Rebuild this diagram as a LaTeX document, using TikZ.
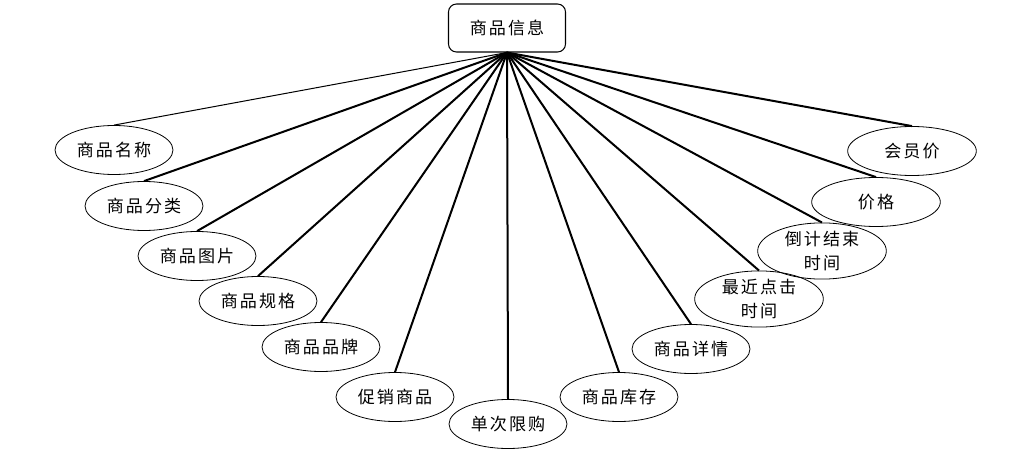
\documentclass[tikz,border=0pt]{standalone}
\usepackage{fontspec}
\usetikzlibrary{shapes.geometric}
\newfontfamily\cjk[LetterSpace=12]{Noto Sans CJK SC}
\begin{document}
\begin{tikzpicture}[x=0.75pt, y=-0.75pt, line width=1.5pt,
  every node/.style={font=\cjk\fontsize{12.8}{18}\selectfont, align=center},
  entity/.style={draw, rounded corners=6pt, line width=0.8pt, minimum width=87.75pt, minimum height=36pt},
  attr/.style={draw, ellipse, line width=0.6pt, inner sep=0pt, minimum width=88.5pt, minimum height=36.75pt},
  wide/.style={minimum width=96.5pt}]
  \useasboundingbox (0,0) rectangle (1026,460);
  \node[entity] (info) at (507,28) {商品信息};
  \node[attr] (mingcheng) at (114,150) {商品名称};
  \node[attr] (fenlei) at (144,206) {商品分类};
  \node[attr] (tupian) at (197,256) {商品图片};
  \node[attr] (guige) at (258,301) {商品规格};
  \node[attr] (pinpai) at (321,347) {商品品牌};
  \node[attr] (cuxiao) at (395,397) {促销商品};
  \node[attr] (xiangou) at (508,424) {单次限购};
  \node[attr] (kucun) at (619,397) {商品库存};
  \node[attr] (xiangqing) at (691,349) {商品详情};
  \node[attr, wide] (dianji) at (759,299) {最近点击\\时间};
  \node[attr, wide] (daoji) at (822,251) {倒计结束\\时间};
  \node[attr, wide] (jiage) at (876,202) {价格};
  \node[attr, wide] (huiyuan) at (912,151) {会员价};
  % connectors
  \draw[line width=0.75pt] (info.south) -- (mingcheng.north);
  \draw (info.south) -- (fenlei.north);
  \draw (info.south) -- (tupian.north);
  \draw (info.south) -- (guige.north);
  \draw (info.south) -- (pinpai.north);
  \draw (info.south) -- (cuxiao.north);
  \draw (info.south) -- (xiangou.north);
  \draw (info.south) -- (kucun.north);
  \draw (info.south) -- (xiangqing.north);
  \draw (info.south) -- (dianji.north);
  \draw (info.south) -- (daoji.north);
  \draw (info.south) -- (jiage.north);
  \draw (info.south) -- (huiyuan.north);
\end{tikzpicture}
\end{document}
